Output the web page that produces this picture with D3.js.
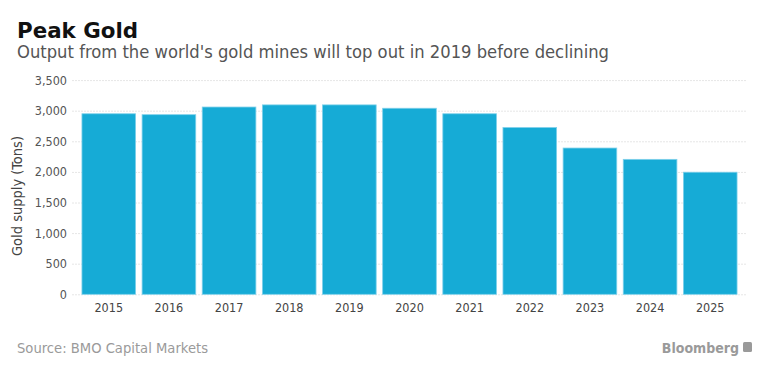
<!DOCTYPE html>
<html><head><meta charset="utf-8">
<script src="https://cdn.jsdelivr.net/npm/d3@7"></script>
<style>
body{margin:0;background:#fff;}
svg{display:block;}
</style></head>
<body>
<svg id="chart" width="768" height="375"></svg>
<script>
const categories = ["2015","2016","2017","2018","2019","2020","2021","2022","2023","2024","2025"];
const supplyTons = [2950, 2935, 3060, 3095, 3095, 3040, 2950, 2725, 2390, 2205, 1995];
const yTicks = [0, 500, 1000, 1500, 2000, 2500, 3000, 3500];

const svg = d3.select("#chart");
const font = "'DejaVu Sans Condensed','DejaVu Sans',sans-serif";

const x = d3.scaleBand().domain(categories).range([78.7, 740.3]).paddingInner(0.108).paddingOuter(0.054);
const y = d3.scaleLinear().domain([0, 3500]).range([294.3, 80.1]);

// title
svg.append("text").attr("x",17).attr("y",38).text("Peak Gold")
  .attr("font-family",font).attr("font-weight","bold").attr("font-size",22).attr("fill","#111")
  .attr("textLength",121).attr("lengthAdjust","spacingAndGlyphs");
svg.append("text").attr("x",17).attr("y",58).text("Output from the world's gold mines will top out in 2019 before declining")
  .attr("font-family",font).attr("font-size",17).attr("fill","#555")
  .attr("textLength",592).attr("lengthAdjust","spacingAndGlyphs");

// gridlines
const gy = svg.append("g").attr("transform","translate(72,0)")
  .call(d3.axisLeft(y).tickValues(yTicks).tickSize(-(746.7-72)).tickFormat(""));
gy.select(".domain").remove();
gy.selectAll(".tick line").attr("stroke","#e6e6e6").attr("stroke-dasharray","2,1");

// y labels
const ya = svg.append("g").attr("transform","translate(67,0)")
  .call(d3.axisLeft(y).tickValues(yTicks).tickSize(0).tickPadding(0).tickFormat(d3.format(",")));
ya.select(".domain").remove();
ya.selectAll("text").attr("font-family",font).attr("font-size",12.5).attr("fill","#555");

// bars
svg.append("g").selectAll("rect").data(categories).join("rect")
  .attr("x", d => x(d)).attr("width", x.bandwidth())
  .attr("y", (d,i) => y(supplyTons[i]))
  .attr("height", (d,i) => y(0) - y(supplyTons[i]))
  .attr("fill","#16abd6").attr("stroke","#7fd0ea").attr("stroke-width",0.8);

// x labels
const xa = svg.append("g").attr("transform",`translate(0,${y(0)})`)
  .call(d3.axisBottom(x).tickSize(0).tickPadding(9));
xa.select(".domain").remove();
xa.selectAll("text").attr("font-family",font).attr("font-size",12.5).attr("fill","#444");

// y axis title
svg.append("text").attr("transform","translate(22,196) rotate(-90)")
  .attr("text-anchor","middle").text("Gold supply (Tons)")
  .attr("font-family",font).attr("font-size",14.5).attr("fill","#444");

// footer
svg.append("text").attr("x",17).attr("y",353).text("Source: BMO Capital Markets")
  .attr("font-family",font).attr("font-size",14.5).attr("fill","#9a9a9a")
  .attr("textLength",191).attr("lengthAdjust","spacingAndGlyphs");
svg.append("text").attr("x",739).attr("y",353).attr("text-anchor","end").text("Bloomberg")
  .attr("font-family",font).attr("font-weight","bold").attr("font-size",14).attr("fill","#9a9a9a");
svg.append("rect").attr("x",743).attr("y",342).attr("width",9).attr("height",10).attr("rx",1.5).attr("fill","#9a9a9a");
</script>
</body></html>
